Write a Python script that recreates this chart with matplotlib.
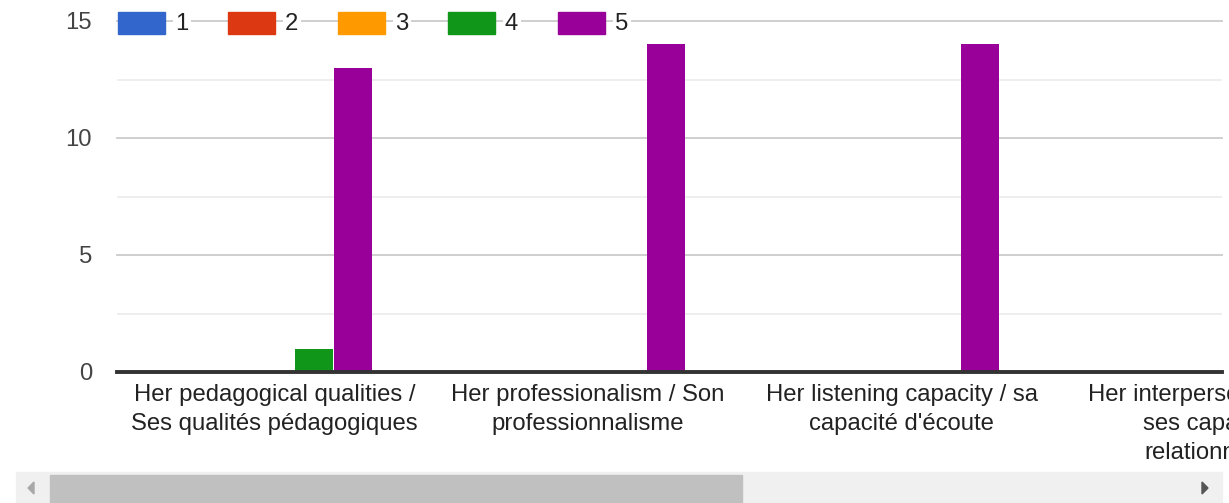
import matplotlib
matplotlib.use("Agg")
import matplotlib.pyplot as plt
from matplotlib.patches import Rectangle, Polygon
import numpy as np

categories = [
    "Her pedagogical qualities /\nSes qualités pédagogiques",
    "Her professionalism / Son\nprofessionnalisme",
    "Her listening capacity / sa\ncapacité d'écoute",
    "Her interpersonal skills /\nses capacités\nrelationnelles",
]
series_names = ["1", "2", "3", "4", "5"]
values = {
    "1": [0, 0, 0, 0],
    "2": [0, 0, 0, 0],
    "3": [0, 0, 0, 0],
    "4": [1, 0, 0, 0],
    "5": [13, 14, 14, 14],
}
colors = ["#3366cc", "#dc3912", "#ff9900", "#109618", "#990099"]
yticks = [0, 5, 10, 15]

W, H = 1229, 503
fig = plt.figure(figsize=(W / 100, H / 100), dpi=100)
fig.patch.set_facecolor("white")
plt.rcParams["font.family"] = ["Liberation Sans", "DejaVu Sans"]
FS = 17.2

def fx(px):
    return px / W

def fy(py):
    return (H - py) / H

left, right = 117, 1222
top, bottom = 21, 372
ax = fig.add_axes([fx(left), fy(bottom), fx(right) - fx(left), fy(top) - fy(bottom)])
ax.set_xlim(-0.5024, 3.022)
ax.set_ylim(0, 15)
ax.axis("off")

# gridlines
for v in [2.5, 7.5, 12.5]:
    ax.axhline(v, color="#ebebeb", lw=1.2, zorder=0)
for v in [5, 10, 15]:
    ax.axhline(v, color="#cccccc", lw=1.3, zorder=0, clip_on=False)

x = np.arange(len(categories))
step = 39 / 313.5
bw = 38 / 313.5
for i, name in enumerate(series_names):
    ax.bar(x + (i - 2) * step, values[name], width=bw, color=colors[i], zorder=2)

ax.axhline(0, color="#333333", lw=2.8, zorder=3, clip_on=False)

# y tick labels
for v in yticks:
    ax.text(-0.5024 - 25 / 313.5, v - 0.09, str(v), ha="right", va="center",
            fontsize=FS, color="#444444", clip_on=False)

# category labels
for xi, lab in zip(x, categories):
    ax.text(xi, -0.5, lab, ha="center", va="top", fontsize=FS,
            color="#222222", linespacing=1.42, clip_on=False)

# legend over the 15 gridline
for i, name in enumerate(series_names):
    sx = 118 + 110 * i
    fig.patches.append(Rectangle((fx(sx), fy(34)), fx(47), 22 / H,
                                 transform=fig.transFigure, color=colors[i], zorder=5))
    fig.text(fx(sx + 57), fy(24), name, ha="left", va="center", fontsize=FS,
             color="#222222", zorder=6,
             bbox=dict(boxstyle="square,pad=0.1", fc="white", ec="none"))

# scrollbar
fig.patches.append(Rectangle((fx(16), fy(503)), fx(1222 - 16), 31.5 / H,
                             transform=fig.transFigure, color="#f0f0f0", zorder=1))
fig.patches.append(Rectangle((fx(50), fy(502)), fx(742 - 50), 27 / H,
                             transform=fig.transFigure, color="#c0c0c0", zorder=2))
fig.patches.append(Polygon([(fx(28), fy(488)), (fx(34), fy(482)), (fx(34), fy(494))],
                           closed=True, transform=fig.transFigure, color="#a8a8a8", zorder=3))
fig.patches.append(Polygon([(fx(1208), fy(488)), (fx(1202), fy(482)), (fx(1202), fy(494))],
                           closed=True, transform=fig.transFigure, color="#555555", zorder=3))

fig.savefig("out.png", dpi=100)
